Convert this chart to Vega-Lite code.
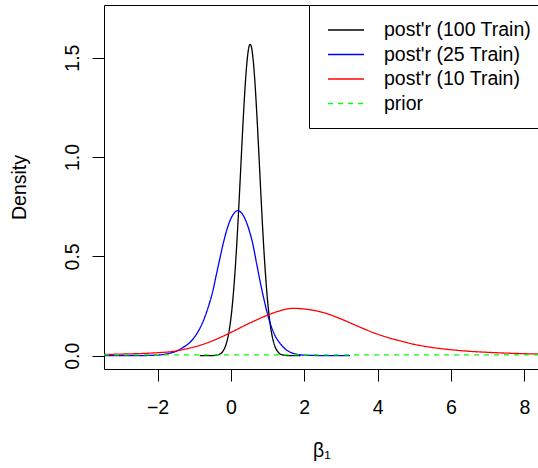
{
  "$schema": "https://vega.github.io/schema/vega-lite/v6.json",
  "width": 435,
  "height": 364,
  "autosize": {"type": "none"},
  "padding": {"left": 104, "top": 5, "right": 0, "bottom": 99},
  "background": "white",
  "config": {
    "view": {"stroke": "black", "strokeWidth": 1},
    "font": "Liberation Sans",
    "axis": {
      "domain": false, "grid": false, "tickColor": "black", "tickSize": 12, "tickWidth": 1,
      "labelFont": "Liberation Sans", "labelFontSize": 19.5, "labelColor": "black",
      "titleFont": "Liberation Sans", "titleFontSize": 19.5, "titleColor": "black", "titleFontWeight": "normal"
    }
  },
  "data": {"values": [
    {"s": "post'r (100 Train)", "x": -0.85, "y": 0},
    {"s": "post'r (100 Train)", "x": -0.5, "y": 0.0005},
    {"s": "post'r (100 Train)", "x": -0.3, "y": 0.0084},
    {"s": "post'r (100 Train)", "x": -0.2, "y": 0.0276},
    {"s": "post'r (100 Train)", "x": -0.15, "y": 0.047},
    {"s": "post'r (100 Train)", "x": -0.1, "y": 0.078},
    {"s": "post'r (100 Train)", "x": -0.05, "y": 0.123},
    {"s": "post'r (100 Train)", "x": 0.0, "y": 0.188},
    {"s": "post'r (100 Train)", "x": 0.05, "y": 0.276},
    {"s": "post'r (100 Train)", "x": 0.1, "y": 0.391},
    {"s": "post'r (100 Train)", "x": 0.15, "y": 0.531},
    {"s": "post'r (100 Train)", "x": 0.2, "y": 0.696},
    {"s": "post'r (100 Train)", "x": 0.25, "y": 0.876},
    {"s": "post'r (100 Train)", "x": 0.3, "y": 1.062},
    {"s": "post'r (100 Train)", "x": 0.35, "y": 1.238},
    {"s": "post'r (100 Train)", "x": 0.4, "y": 1.39},
    {"s": "post'r (100 Train)", "x": 0.45, "y": 1.501},
    {"s": "post'r (100 Train)", "x": 0.5, "y": 1.56},
    {"s": "post'r (100 Train)", "x": 0.525, "y": 1.567},
    {"s": "post'r (100 Train)", "x": 0.55, "y": 1.56},
    {"s": "post'r (100 Train)", "x": 0.6, "y": 1.501},
    {"s": "post'r (100 Train)", "x": 0.65, "y": 1.39},
    {"s": "post'r (100 Train)", "x": 0.7, "y": 1.238},
    {"s": "post'r (100 Train)", "x": 0.75, "y": 1.062},
    {"s": "post'r (100 Train)", "x": 0.8, "y": 0.876},
    {"s": "post'r (100 Train)", "x": 0.85, "y": 0.696},
    {"s": "post'r (100 Train)", "x": 0.9, "y": 0.531},
    {"s": "post'r (100 Train)", "x": 0.95, "y": 0.391},
    {"s": "post'r (100 Train)", "x": 1.0, "y": 0.276},
    {"s": "post'r (100 Train)", "x": 1.05, "y": 0.188},
    {"s": "post'r (100 Train)", "x": 1.1, "y": 0.123},
    {"s": "post'r (100 Train)", "x": 1.15, "y": 0.078},
    {"s": "post'r (100 Train)", "x": 1.2, "y": 0.047},
    {"s": "post'r (100 Train)", "x": 1.3, "y": 0.0155},
    {"s": "post'r (100 Train)", "x": 1.4, "y": 0.0044},
    {"s": "post'r (100 Train)", "x": 1.6, "y": 0.0002},
    {"s": "post'r (100 Train)", "x": 1.9, "y": 0},
    {"s": "post'r (25 Train)", "x": -3.46, "y": 0},
    {"s": "post'r (25 Train)", "x": -2.5, "y": 0.0005},
    {"s": "post'r (25 Train)", "x": -2.0, "y": 0.003},
    {"s": "post'r (25 Train)", "x": -1.75, "y": 0.009},
    {"s": "post'r (25 Train)", "x": -1.5, "y": 0.022},
    {"s": "post'r (25 Train)", "x": -1.3, "y": 0.042},
    {"s": "post'r (25 Train)", "x": -1.1, "y": 0.07},
    {"s": "post'r (25 Train)", "x": -1.0, "y": 0.092},
    {"s": "post'r (25 Train)", "x": -0.9, "y": 0.12},
    {"s": "post'r (25 Train)", "x": -0.8, "y": 0.155},
    {"s": "post'r (25 Train)", "x": -0.7, "y": 0.2},
    {"s": "post'r (25 Train)", "x": -0.6, "y": 0.255},
    {"s": "post'r (25 Train)", "x": -0.5, "y": 0.32},
    {"s": "post'r (25 Train)", "x": -0.4, "y": 0.405},
    {"s": "post'r (25 Train)", "x": -0.3, "y": 0.49},
    {"s": "post'r (25 Train)", "x": -0.2, "y": 0.572},
    {"s": "post'r (25 Train)", "x": -0.1, "y": 0.64},
    {"s": "post'r (25 Train)", "x": 0.0, "y": 0.69},
    {"s": "post'r (25 Train)", "x": 0.1, "y": 0.72},
    {"s": "post'r (25 Train)", "x": 0.18, "y": 0.73},
    {"s": "post'r (25 Train)", "x": 0.3, "y": 0.716},
    {"s": "post'r (25 Train)", "x": 0.4, "y": 0.682},
    {"s": "post'r (25 Train)", "x": 0.5, "y": 0.63},
    {"s": "post'r (25 Train)", "x": 0.6, "y": 0.56},
    {"s": "post'r (25 Train)", "x": 0.7, "y": 0.465},
    {"s": "post'r (25 Train)", "x": 0.8, "y": 0.37},
    {"s": "post'r (25 Train)", "x": 0.9, "y": 0.285},
    {"s": "post'r (25 Train)", "x": 1.0, "y": 0.208},
    {"s": "post'r (25 Train)", "x": 1.1, "y": 0.147},
    {"s": "post'r (25 Train)", "x": 1.2, "y": 0.102},
    {"s": "post'r (25 Train)", "x": 1.3, "y": 0.072},
    {"s": "post'r (25 Train)", "x": 1.4, "y": 0.049},
    {"s": "post'r (25 Train)", "x": 1.5, "y": 0.031},
    {"s": "post'r (25 Train)", "x": 1.6, "y": 0.019},
    {"s": "post'r (25 Train)", "x": 1.75, "y": 0.009},
    {"s": "post'r (25 Train)", "x": 2.0, "y": 0.003},
    {"s": "post'r (25 Train)", "x": 2.5, "y": 0.0005},
    {"s": "post'r (25 Train)", "x": 3.25, "y": 0},
    {"s": "post'r (10 Train)", "x": -3.46, "y": 0.006},
    {"s": "post'r (10 Train)", "x": -3.0, "y": 0.008},
    {"s": "post'r (10 Train)", "x": -2.5, "y": 0.0105},
    {"s": "post'r (10 Train)", "x": -2.0, "y": 0.015},
    {"s": "post'r (10 Train)", "x": -1.6, "y": 0.021},
    {"s": "post'r (10 Train)", "x": -1.3, "y": 0.031},
    {"s": "post'r (10 Train)", "x": -1.0, "y": 0.044},
    {"s": "post'r (10 Train)", "x": -0.7, "y": 0.061},
    {"s": "post'r (10 Train)", "x": -0.5, "y": 0.075},
    {"s": "post'r (10 Train)", "x": -0.3, "y": 0.091},
    {"s": "post'r (10 Train)", "x": 0.0, "y": 0.117},
    {"s": "post'r (10 Train)", "x": 0.5, "y": 0.163},
    {"s": "post'r (10 Train)", "x": 1.0, "y": 0.204},
    {"s": "post'r (10 Train)", "x": 1.3, "y": 0.224},
    {"s": "post'r (10 Train)", "x": 1.7, "y": 0.2385},
    {"s": "post'r (10 Train)", "x": 2.0, "y": 0.235},
    {"s": "post'r (10 Train)", "x": 2.5, "y": 0.218},
    {"s": "post'r (10 Train)", "x": 3.0, "y": 0.185},
    {"s": "post'r (10 Train)", "x": 3.5, "y": 0.145},
    {"s": "post'r (10 Train)", "x": 4.0, "y": 0.108},
    {"s": "post'r (10 Train)", "x": 4.5, "y": 0.08},
    {"s": "post'r (10 Train)", "x": 5.0, "y": 0.057},
    {"s": "post'r (10 Train)", "x": 5.5, "y": 0.041},
    {"s": "post'r (10 Train)", "x": 6.0, "y": 0.03},
    {"s": "post'r (10 Train)", "x": 6.5, "y": 0.022},
    {"s": "post'r (10 Train)", "x": 7.0, "y": 0.017},
    {"s": "post'r (10 Train)", "x": 7.5, "y": 0.013},
    {"s": "post'r (10 Train)", "x": 8.0, "y": 0.01},
    {"s": "post'r (10 Train)", "x": 8.45, "y": 0.008},
    {"s": "prior", "x": -3.46, "y": 0.004},
    {"s": "prior", "x": 8.45, "y": 0.004}
  ]},
  "mark": {"type": "line", "strokeWidth": 1.3, "clip": true, "interpolate": "monotone"},
  "encoding": {
    "x": {"field": "x", "type": "quantitative",
      "scale": {"domain": [-3.46, 8.4], "nice": false, "zero": false},
      "axis": {"values": [-2, 0, 2, 4, 6, 8], "title": "β₁", "labelPadding": 17, "titlePadding": 25, "labelFlush": false}},
    "y": {"field": "y", "type": "quantitative",
      "scale": {"domain": [-0.067, 1.765], "nice": false, "zero": false},
      "axis": {"values": [0, 0.5, 1, 1.5], "format": ".1f", "title": "Density", "labelAngle": 270, "labelAlign": "center", "labelBaseline": "alphabetic", "labelPadding": 14, "titlePadding": 33, "labelFlush": false}},
    "color": {"field": "s", "type": "nominal",
      "scale": {"domain": ["post'r (100 Train)", "post'r (25 Train)", "post'r (10 Train)", "prior"], "range": ["#000000", "#0000ff", "#ff0000", "#00ff00"]},
      "legend": {"title": null, "orient": "none", "legendX": 205, "legendY": 0, "fillColor": "white", "strokeColor": "black", "padding": 15,
        "symbolType": "M-0.667,0H3.333", "symbolSize": 324, "symbolStrokeWidth": 1.3, "labelOffset": 40, "labelFont": "Liberation Sans", "labelFontSize": 19.5, "labelColor": "black", "rowPadding": 4.5, "labelLimit": 300}},
    "strokeDash": {"field": "s", "type": "nominal",
      "scale": {"domain": ["post'r (100 Train)", "post'r (25 Train)", "post'r (10 Train)", "prior"], "range": [[1, 0], [1, 0], [1, 0], [5, 5]]},
      "legend": null}
  }
}
